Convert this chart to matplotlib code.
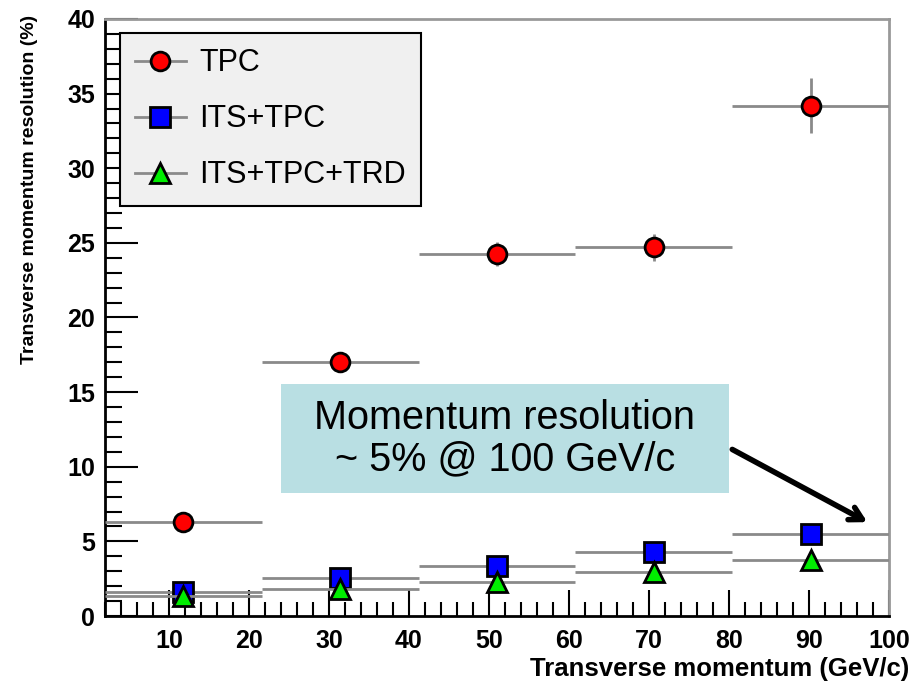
import matplotlib
matplotlib.use("Agg")
import matplotlib.pyplot as plt
from matplotlib.ticker import MultipleLocator
from matplotlib.lines import Line2D
from matplotlib.patches import Rectangle

plt.rcParams['font.family'] = ['Liberation Sans', 'DejaVu Sans']

bin_lo = [2.0, 21.6, 41.2, 60.8, 80.4]
bin_hi = [21.6, 41.2, 60.8, 80.4, 100.0]
tpc = [6.3, 17.05, 24.25, 24.7, 34.2]
tpc_err = [0.3, 0.3, 0.8, 0.9, 1.85]
its_tpc = [1.6, 2.52, 3.35, 4.26, 5.52]
its_tpc_trd = [1.32, 1.8, 2.3, 2.97, 3.72]
labels = ["TPC", "ITS+TPC", "ITS+TPC+TRD"]

xc = [(a + b) / 2 for a, b in zip(bin_lo, bin_hi)]
xe = [(b - a) / 2 for a, b in zip(bin_lo, bin_hi)]

fig = plt.figure(figsize=(9.12, 6.85), dpi=100)
ax = fig.add_axes([0.1151, 0.1007, 0.8597, 0.8716])

ecol = '#8a8a8a'
styles = [
    dict(marker='o', ms=13.5, mfc='#ff0000'),
    dict(marker='s', ms=15, mfc='#0000ff'),
    dict(marker='^', ms=15, mfc='#00ee00'),
]
series = [tpc, its_tpc, its_tpc_trd]
yerrs = [tpc_err, [0.1] * 5, [0.1] * 5]
zs = [5, 4, 6]
for vals, err, st, z in zip(series, yerrs, styles, zs):
    ax.errorbar(xc, vals, xerr=xe, yerr=err, fmt=st['marker'], ms=st['ms'], mfc=st['mfc'],
                mec='black', mew=2, ecolor=ecol, elinewidth=2, capsize=0, zorder=z)

ax.set_xlim(2, 100)
ax.set_ylim(0, 40)
ax.xaxis.set_major_locator(MultipleLocator(10))
ax.xaxis.set_minor_locator(MultipleLocator(2))
ax.yaxis.set_major_locator(MultipleLocator(5))
ax.yaxis.set_minor_locator(MultipleLocator(1))
ax.tick_params(axis='both', which='both', direction='in', top=False, right=False, width=1.5, color='black')
ax.tick_params(axis='y', which='major', length=24, labelsize=18, pad=7)
ax.tick_params(axis='y', which='minor', length=12)
ax.tick_params(axis='x', which='major', length=19, labelsize=18, pad=9)
ax.tick_params(axis='x', which='minor', length=10)
for lab in ax.get_xticklabels() + ax.get_yticklabels():
    lab.set_fontweight('bold')

for s in ['top', 'right']:
    ax.spines[s].set_color('#999999')
    ax.spines[s].set_linewidth(2)
for s in ['left', 'bottom']:
    ax.spines[s].set_color('black')
    ax.spines[s].set_linewidth(2)

fig.text(0.997, 0.006, "Transverse momentum (GeV/c)", ha='right', va='bottom',
         fontsize=18.5, fontweight='bold')
fig.text(0.032, 0.979, "Transverse momentum resolution (%)", ha='center', va='top',
         rotation=90, fontsize=14, fontweight='bold')

handles = [Line2D([], [], color=ecol, lw=2, marker=st['marker'], ms=st['ms'], mfc=st['mfc'],
                  mec='black', mew=2) for st in styles]
leg = ax.legend(handles, labels, loc='upper left', bbox_to_anchor=(0.019, 0.9765), borderaxespad=0,
                fontsize=22, frameon=True, fancybox=False, edgecolor='black', facecolor='#f0f0f0',
                framealpha=1, handlelength=1.65, labelspacing=0.85, borderpad=0.5, handletextpad=0.45)
leg.get_frame().set_linewidth(1.5)
leg.set_zorder(10)

ax.add_patch(Rectangle((24.0, 8.24), 56.0, 7.3, facecolor='#b9dfe3', edgecolor='none', zorder=7))
ax.text(52.0, 11.9, "Momentum resolution\n~ 5% @ 100 GeV/c", ha='center', va='center',
        fontsize=28.5, linespacing=1.12, zorder=8)
ax.annotate("", xy=(97.6, 6.2), xytext=(80.1, 11.25),
            arrowprops=dict(arrowstyle='->,head_length=0.9,head_width=0.5', lw=4, color='black'),
            zorder=9)

fig.savefig("out.png", dpi=100)
